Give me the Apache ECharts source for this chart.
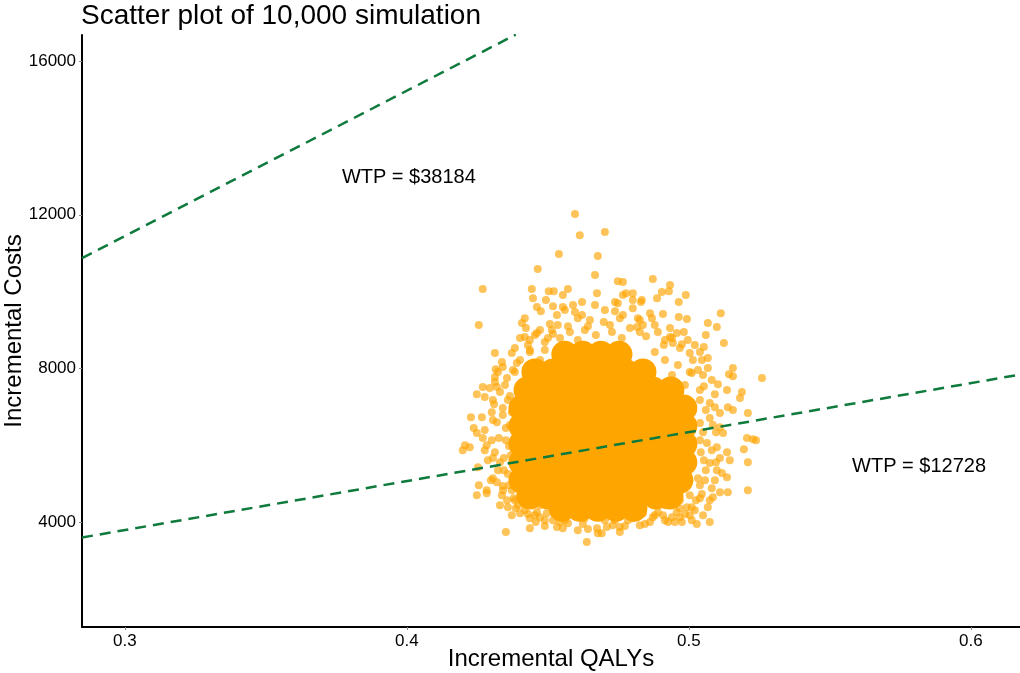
<!DOCTYPE html>
<html lang="en">
<head>
    <meta charset="UTF-8">
    <title>Scatter plot of 10,000 simulation</title>
    <script src="https://cdn.jsdelivr.net/npm/echarts@6/dist/echarts.min.js"></script>
    <style>
        html, body { margin: 0; padding: 0; background: #fff; }
        #main { width: 1020px; height: 673px; }
    </style>
</head>
<body>
<div id="main"></div>
<script>
    // axis ranges and ticks
    var xRange = [0.2848, 0.6174];
    var yRange = [1270, 16680];
    var xTicks = [0.3, 0.4, 0.5, 0.6];
    var yTicks = [4000, 8000, 12000, 16000];

    // scattered simulations (incremental QALYs, incremental costs) around the cloud
    var simPoints = [
        [0.4596,12020],[0.4613,11470],[0.4539,10980],[0.4677,10930],[0.4464,10590],[0.4667,10430],
        [0.4269,10070],[0.4255,9130],[0.4443,10070],[0.4503,10010],[0.4521,10010],[0.4571,10070],
        [0.4674,9960],[0.4447,9830],[0.4493,9780],[0.4553,9910],[0.4621,9730],[0.4461,9600],
        [0.4475,9490],[0.4518,9620],[0.4553,9600],[0.4560,9520],[0.4589,9650],[0.4667,9650],
        [0.4532,9390],[0.4596,9470],[0.4621,9390],[0.4606,9310],[0.4418,9310],[0.4408,9180],
        [0.4422,9050],[0.4507,9160],[0.4535,9130],[0.4571,9100],[0.4472,9000],[0.4461,8920],
        [0.4401,8790],[0.4418,8820],[0.4436,8740],[0.4518,8900],[0.4312,8400],[0.4383,8530],
        [0.4372,8400],[0.4337,8170],[0.4340,8040],[0.4315,7980],[0.4312,7780],[0.4376,7960],
        [0.4390,8140],
        [0.4702,11550],[0.4748,10270],[0.4766,10250],[0.4872,10330],[0.4933,10170],[0.4929,10010],
        [0.4904,9990],[0.4887,9830],[0.4989,9910],[0.4964,9730],[0.4777,9960],[0.4801,9960],
        [0.4766,9910],[0.4738,9730],[0.4748,9700],[0.4801,9780],[0.4833,9780],[0.4830,9730],
        [0.4801,9570],[0.4702,9520],[0.4738,9490],[0.4766,9390],[0.4862,9440],[0.4869,9310],
        [0.4908,9420],[0.4964,9340],[0.4993,9290],[0.5113,9440],[0.5067,9180],[0.5099,9080],
        [0.4933,9050],[0.4957,8920],[0.4982,8950],[0.5060,8870],[0.5124,8660],[0.5021,8610],
        [0.5053,8560],[0.4975,8630],[0.5003,8400],[0.5014,8220],[0.5067,8010],[0.5156,8010],
        [0.5142,7850],[0.5156,7800],[0.5032,7960],[0.5050,7830],[0.5010,7880],[0.4819,9310],
        [0.4837,9130],[0.4816,9080],[0.4933,8820],[0.4943,8660],
        [0.4248,7330],[0.4269,7520],[0.4294,7490],[0.4276,7260],[0.4305,7180],[0.4312,7650],
        [0.4319,7520],[0.4227,6730],[0.4266,6730],[0.4237,6450],[0.4248,6320],[0.4276,6400],
        [0.4301,6860],[0.4305,6660],[0.4206,6000],[0.4198,5870],[0.4223,5950],[0.4269,6190],
        [0.4283,6000],[0.4276,5870],[0.4301,6130],[0.4287,5610],[0.4305,5670],[0.4330,5560],
        [0.4252,5430],[0.4255,4960],[0.4283,4830],[0.4248,4700],[0.4283,4750],[0.4298,5090],
        [0.4319,5040],[0.4330,4440],[0.4358,4390],[0.4372,4180],[0.4401,4230],[0.4429,4210],
        [0.4341,4830],[0.4337,4700],[0.4457,4000],[0.4436,3840],[0.4351,3740],[0.4532,3870],
        [0.4553,3840],[0.4571,3970],[0.4606,3790],[0.4642,3820],[0.4638,3480],[0.4674,3840],
        [0.4677,3710],[0.4496,4230],[0.4518,4050],[0.4461,4260],[0.4472,4130],
        [0.5103,7590],[0.5135,7440],[0.5188,7390],[0.5181,7230],[0.5074,7100],[0.5092,6990],
        [0.5110,6840],[0.5138,6990],[0.5156,6920],[0.5209,6840],[0.5039,6580],[0.5085,6530],
        [0.5121,6320],[0.5110,6470],[0.5206,6190],[0.5195,5900],[0.5209,5560],[0.5064,6060],
        [0.5099,5950],[0.5135,5820],[0.5110,5670],[0.5145,5610],[0.5074,5540],[0.5099,5350],
        [0.5117,5280],[0.5135,5170],[0.5057,5090],[0.5092,5090],[0.5110,4780],[0.5138,4780],
        [0.5085,4650],[0.5209,4830],[0.5039,4620],[0.5067,4390],[0.4968,4360],[0.4993,4390],
        [0.4957,4260],[0.5010,4390],[0.5050,4180],[0.5074,4000],[0.5028,3950],[0.4908,4180],
        [0.4940,4130],[0.4950,4000],[0.4975,4000],[0.4968,4130],[0.4862,4000],[0.4872,4130],
        [0.4837,4230],[0.4816,4180],[0.4784,4050],[0.4755,3870],[0.4755,3740],[0.4730,3920],
        [0.4709,3870],[0.4691,3710],
        [0.5259,7750],[0.5227,6160],[0.5238,6130],
        [0.4348,7570],[0.4358,7180],[0.4340,6790],[0.4365,6530],[0.4351,6130],[0.4369,5740],
        [0.4344,5350],[0.4362,4960],[0.4379,4620],[0.4394,4440],
        [0.4436,8480],[0.4500,8790],[0.4631,9000],[0.4720,9130],[0.4826,8950],[0.4915,8740],
        [0.4649,9260],[0.4755,9310],[0.4879,9130],
        [0.4543,4000],[0.4631,4100],[0.4738,4050],[0.4826,3920],[0.4915,4050],[0.5003,4180],
        [0.4489,4050],
        [0.5046,8220],[0.5039,7440],[0.5060,6920],[0.5039,6130],[0.5053,5610],[0.5039,4960],
        [0.5025,4570]
    ];

    // crowded ring just outside the solid centre
    var ringPoints = [
        [0.4323,7910],[0.4355,7750],[0.4330,7390],[0.4365,7280],[0.4309,7070],[0.4340,6970],
        [0.4372,6860],[0.4319,6600],[0.4351,6450],[0.4383,6340],[0.4326,6190],[0.4362,5980],
        [0.4312,5820],[0.4344,5670],[0.4376,5560],[0.4323,5350],[0.4358,5250],[0.4305,5140],
        [0.4340,4940],[0.4372,4830],[0.4355,4570],[0.4386,4360],
        [0.4429,8610],[0.4454,8870],[0.4489,8690],[0.4514,9000],[0.4543,8790],[0.4578,8950],
        [0.4606,8740],[0.4642,9100],[0.4670,8870],[0.4698,9210],[0.4727,8950],[0.4762,8790],
        [0.4791,9050],[0.4826,9260],[0.4848,8840],[0.4890,8950],[0.4911,8610],[0.4940,8790],
        [0.4968,8530],[0.4996,8740],
        [0.5039,8430],[0.5067,8270],[0.5081,7700],[0.5053,7540],[0.5092,7330],[0.5039,7180],
        [0.5074,6710],[0.5096,6340],[0.5050,6340],[0.5081,5870],[0.5042,5820],[0.5096,5560],
        [0.5060,5350],[0.5032,5140],[0.5081,4880],[0.5046,4730],[0.5074,4570],[0.5021,4310],
        [0.4436,4100],[0.4489,3900],[0.4525,4260],[0.4560,4050],[0.4596,4150],[0.4624,3950],
        [0.4656,4180],[0.4702,4050],[0.4745,4210],[0.4773,3900],[0.4801,4100],[0.4844,3950],
        [0.4890,4260],[0.4926,4000],[0.4986,4210],[0.5010,4050],
        [0.4915,8220],[0.4961,8090],[0.5003,7910],[0.4940,7830],[0.4986,7570],[0.4879,8430],
        [0.4401,8220],[0.4436,8430],[0.4383,7910],[0.4472,8220],[0.4489,8480],
        [0.4383,4570],[0.4418,4310],[0.4472,4440],[0.4454,4180],
        [0.4915,4440],[0.4968,4570],[0.4879,4180],[0.5003,4700]
    ];

    // the solid centre of the cloud, where thousands of runs overlap
    var densePoints = [
        [0.4560,8370],[0.4624,8370],[0.4688,8370],[0.4752,8370],
        [0.4454,7910],[0.4518,7910],[0.4582,7910],[0.4645,7910],[0.4709,7910],[0.4773,7910],[0.4837,7910],
        [0.4426,7440],[0.4489,7440],[0.4553,7440],[0.4617,7440],[0.4681,7440],[0.4745,7440],[0.4808,7440],[0.4872,7440],[0.4936,7440],
        [0.4408,6970],[0.4472,6970],[0.4535,6970],[0.4599,6970],[0.4663,6970],[0.4727,6970],[0.4791,6970],[0.4855,6970],[0.4918,6970],[0.4982,6970],
        [0.4408,6500],[0.4472,6500],[0.4535,6500],[0.4599,6500],[0.4663,6500],[0.4727,6500],[0.4791,6500],[0.4855,6500],[0.4918,6500],[0.4982,6500],
        [0.4408,6030],[0.4472,6030],[0.4535,6030],[0.4599,6030],[0.4663,6030],[0.4727,6030],[0.4791,6030],[0.4855,6030],[0.4918,6030],[0.4982,6030],
        [0.4408,5560],[0.4472,5560],[0.4535,5560],[0.4599,5560],[0.4663,5560],[0.4727,5560],[0.4791,5560],[0.4855,5560],[0.4918,5560],[0.4982,5560],
        [0.4408,5090],[0.4472,5090],[0.4535,5090],[0.4599,5090],[0.4663,5090],[0.4727,5090],[0.4791,5090],[0.4855,5090],[0.4918,5090],[0.4968,5090],
        [0.4436,4680],[0.4500,4680],[0.4564,4680],[0.4628,4680],[0.4691,4680],[0.4755,4680],[0.4819,4680],[0.4883,4680],[0.4933,4680],
        [0.4550,4360],[0.4613,4360],[0.4677,4360],[0.4741,4360],[0.4805,4360]
    ];

    // willingness-to-pay threshold lines (end points)
    var wtpHigh = [[0.2848, 10870], [0.4386, 16690]];
    var wtpLow = [[0.2848, 3600], [0.6174, 7840]];
    var wtpLabels = [
        {name: 'WTP = $38184', value: [0.4007, 12980]},
        {name: 'WTP = $12728', value: [0.5816, 5460]}
    ];

    var chart = echarts.init(document.getElementById('main'));
    var font = '"Liberation Sans", Arial, sans-serif';
    var dotColor = '#FFA500';

    var option = {
        animation: false,
        backgroundColor: '#fff',
        textStyle: {fontFamily: font},
        title: {
            text: 'Scatter plot of 10,000 simulation',
            left: 81,
            top: 2,
            padding: 0,
            textStyle: {fontSize: 28, fontWeight: 'normal', color: '#000', fontFamily: font}
        },
        grid: {left: 82, right: 0, top: 35, bottom: 46, containLabel: false, outerBoundsMode: 'none'},
        xAxis: {
            type: 'value',
            min: xRange[0],
            max: xRange[1],
            name: 'Incremental QALYs',
            nameLocation: 'middle',
            nameGap: 20,
            nameMoveOverlap: false,
            nameTextStyle: {fontSize: 24, color: '#000', fontFamily: font},
            axisLine: {show: true, onZero: false, lineStyle: {color: '#000', width: 2}},
            axisTick: {show: true, length: 3, customValues: xTicks, lineStyle: {color: '#888'}},
            axisLabel: {
                customValues: xTicks,
                fontSize: 17,
                color: '#000',
                margin: 6,
                formatter: function (v) { return String(Math.round(v * 10) / 10); }
            },
            splitLine: {show: false}
        },
        yAxis: {
            type: 'value',
            min: yRange[0],
            max: yRange[1],
            name: 'Incremental Costs',
            nameLocation: 'middle',
            nameGap: 56,
            nameMoveOverlap: false,
            nameTextStyle: {fontSize: 24, color: '#000', fontFamily: font},
            axisLine: {show: true, onZero: false, lineStyle: {color: '#000', width: 2}},
            axisTick: {show: true, length: 3, customValues: yTicks, lineStyle: {color: '#888'}},
            axisLabel: {
                customValues: yTicks,
                fontSize: 17,
                color: '#000',
                margin: 6,
                formatter: function (v) { return String(Math.round(v)); }
            },
            splitLine: {show: false}
        },
        series: [
            {
                name: 'dense',
                type: 'scatter',
                data: densePoints,
                symbolSize: 27,
                itemStyle: {color: dotColor, opacity: 1},
                silent: true,
                z: 1
            },
            {
                name: 'ring',
                type: 'scatter',
                data: ringPoints,
                symbolSize: 8,
                itemStyle: {color: dotColor, opacity: 0.65},
                silent: true,
                z: 2
            },
            {
                name: 'simulations',
                type: 'scatter',
                data: simPoints,
                symbolSize: 8,
                itemStyle: {color: dotColor, opacity: 0.65},
                silent: true,
                z: 2
            },
            {
                name: 'WTP high',
                type: 'line',
                data: wtpHigh,
                showSymbol: false,
                symbol: 'none',
                lineStyle: {color: '#0E7A3C', width: 2.5, type: [11, 7]},
                z: 5
            },
            {
                name: 'WTP low',
                type: 'line',
                data: wtpLow,
                showSymbol: false,
                symbol: 'none',
                lineStyle: {color: '#0E7A3C', width: 2.5, type: [11, 7]},
                z: 5
            },
            {
                name: 'labels',
                type: 'scatter',
                data: wtpLabels,
                symbolSize: 1,
                itemStyle: {color: 'rgba(0,0,0,0)'},
                label: {
                    show: true,
                    position: 'inside',
                    formatter: '{b}',
                    fontSize: 20,
                    color: '#000',
                    opacity: 1,
                    fontFamily: font
                },
                silent: true,
                z: 6
            }
        ]
    };
    chart.setOption(option);
</script>
</body>
</html>
